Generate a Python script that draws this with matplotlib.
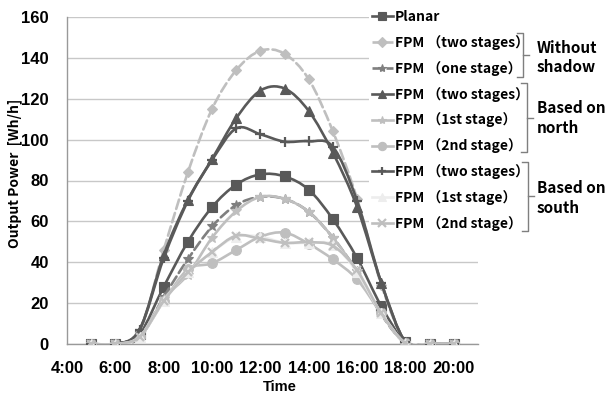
import numpy as np
import matplotlib
matplotlib.use("Agg")
import matplotlib.pyplot as plt
from matplotlib.path import Path
from matplotlib.patches import PathPatch
from matplotlib.lines import Line2D

# hours of the day (data points)
hours = [5, 6, 7, 8, 9, 10, 11, 12, 13, 14, 15, 16, 17, 18, 19, 20]

planar    = [0, 0, 5.0, 28.0, 50.0, 67.0, 78.0, 83.0, 82.0, 75.5, 61.0, 42.0, 18.5, 1.0, 0, 0]
wo_two    = [0, 0, 6.0, 46.0, 84.0, 115.0, 134.0, 143.5, 142.0, 129.5, 104.0, 71.0, 29.0, 1.0, 0, 0]
wo_one    = [0, 0, 3.0, 23.0, 41.5, 57.5, 68.0, 72.0, 71.0, 64.7, 52.0, 35.5, 14.5, 0.5, 0, 0]
north_two = [0, 0, 7.0, 43.5, 70.5, 90.5, 110.5, 124.0, 125.0, 114.0, 93.5, 67.0, 30.0, 1.0, 0, 0]
north_1st = [0, 0, 3.5, 22.0, 34.0, 52.0, 65.0, 72.0, 71.0, 64.7, 52.0, 35.5, 15.0, 0.5, 0, 0]
north_2nd = [0, 0, 3.5, 21.0, 36.5, 39.5, 46.0, 52.5, 54.5, 49.0, 41.4, 31.6, 15.0, 0.5, 0, 0]
south_two = [0, 0, 7.0, 42.0, 70.0, 90.0, 105.5, 102.6, 99.0, 99.2, 96.5, 70.0, 30.0, 1.0, 0, 0]
south_1st = [0, 0, 3.5, 21.0, 35.0, 45.0, 52.5, 52.5, 49.5, 49.5, 48.5, 35.0, 15.0, 0.5, 0, 0]
south_2nd = [0, 0, 3.5, 21.0, 35.0, 45.0, 53.0, 51.5, 49.5, 49.8, 48.0, 36.0, 15.0, 0.5, 0, 0]

labels = ["Planar", "FPM （two stages）", "FPM （one stage）",
          "FPM （two stages）", "FPM （1st stage）", "FPM （2nd stage）",
          "FPM （two stages）", "FPM （1st stage）", "FPM （2nd stage）"]

xticks = [4, 6, 8, 10, 12, 14, 16, 18, 20]
xticklabels = ["4:00", "6:00", "8:00", "10:00", "12:00", "14:00", "16:00", "18:00", "20:00"]

DARK = "#595959"
LIGHT = "#BFBFBF"
MID = "#7F7F7F"
PALE = "#EDEDED"

# (values, color, linestyle, marker, markersize)
series = [
    (planar,    DARK,  "-",  "s", 6.5),
    (wo_two,    LIGHT, "--", "D", 5.5),
    (wo_one,    MID,   "--", "*", 7),
    (north_two, DARK,  "-",  "^", 7),
    (north_1st, LIGHT, "-",  "*", 7),
    (north_2nd, LIGHT, "-",  "o", 7),
    (south_two, DARK,  "-",  "+", 7),
    (south_1st, PALE,  "-",  "^", 7),
    (south_2nd, LIGHT, "-",  "x", 6),
]


def smooth_path(xs, ys):
    # excel style smoothed line: bezier segments with catmull-rom control points
    pts = np.column_stack([xs, ys]).astype(float)
    n = len(pts)
    verts = [tuple(pts[0])]
    codes = [Path.MOVETO]
    for i in range(n - 1):
        p0 = pts[max(i - 1, 0)]
        p1 = pts[i]
        p2 = pts[i + 1]
        p3 = pts[min(i + 2, n - 1)]
        c1 = p1 + (p2 - p0) / 6.0
        c2 = p2 - (p3 - p1) / 6.0
        verts += [tuple(c1), tuple(c2), tuple(p2)]
        codes += [Path.CURVE4] * 3
    return Path(verts, codes)


W, H = 612, 394
fig = plt.figure(figsize=(W / 100, H / 100), dpi=100)
ax = fig.add_axes([67 / W, 1 - 344 / H, (478 - 67) / W, (344 - 17) / H])

handles = []
for i, (vals, col, ls, mk, ms) in enumerate(series):
    z = 3 + i * 0.1
    mew = 1.6 if mk in ("+", "x") else 0.8
    patch = PathPatch(smooth_path(hours, vals), fill=False, edgecolor=col,
                      linewidth=1.9, linestyle=ls, zorder=z, capstyle="round")
    ax.add_patch(patch)
    ax.plot(hours, vals, linestyle="none", marker=mk, markersize=ms,
            markerfacecolor=col, markeredgecolor=col, markeredgewidth=mew,
            zorder=z + 0.05)
    handles.append(Line2D([], [], color=col, linestyle=ls, linewidth=1.9, marker=mk,
                          markersize=ms * 0.85, markerfacecolor=col, markeredgecolor=col,
                          markeredgewidth=mew))

ax.set_xlim(4, 21)
ax.set_ylim(0, 160)
ax.set_xticks(xticks)
ax.set_xticklabels(xticklabels)
ax.set_yticks(range(0, 161, 20))
ax.grid(axis="y", color="#C8C8C8", linewidth=1.0, zorder=0)
ax.set_axisbelow(True)
for s in ("top", "right"):
    ax.spines[s].set_visible(False)
for s in ("left", "bottom"):
    ax.spines[s].set_color("#999999")
    ax.spines[s].set_linewidth(1.0)
ax.tick_params(axis="both", length=0)
ax.tick_params(axis="x", pad=12)
ax.tick_params(axis="y", pad=13)
for t in ax.get_xticklabels() + ax.get_yticklabels():
    t.set_fontfamily("Liberation Sans")
    t.set_fontweight("bold")
    t.set_fontsize(12)

ax.set_xlabel("Time", fontfamily="Liberation Sans", fontweight="bold", fontsize=10.5)
ax.xaxis.set_label_coords((280 - 67) / 411, (344 - 380) / 327)
fig.text(15 / W, 1 - 173 / H, "Output Power  [Wh/h]", rotation=90, ha="center", va="center",
         family=["Noto Sans CJK JP", "DejaVu Sans"], fontweight="bold", fontsize=10)

leg = fig.legend(handles, labels, loc="upper left",
                 bbox_to_anchor=((372 - 3) / W, 1 - 7 / H),
                 prop={"family": ["Noto Sans CJK JP", "DejaVu Sans"], "weight": "bold", "size": 10},
                 handlelength=1.5, handletextpad=0.15, labelspacing=0.79,
                 borderpad=0.2, borderaxespad=0, frameon=True, fancybox=False)
leg.get_frame().set_facecolor("white")
leg.get_frame().set_edgecolor("none")
leg.get_frame().set_alpha(1)
leg.set_zorder(5)


def px(x, y):
    return x / W, 1 - y / H


def bracket(x, y0, y1, ym):
    xs, ys = zip(*[px(x - 6, y0), px(x, y0), px(x, y1), px(x - 6, y1)])
    fig.add_artist(Line2D(xs, ys, color=MID, linewidth=1.0, zorder=10))
    xs, ys = zip(*[px(x, ym), px(x + 6, ym)])
    fig.add_artist(Line2D(xs, ys, color=MID, linewidth=1.0, zorder=10))


bracket(523, 33, 77, 55)
bracket(527, 83, 152, 118)
bracket(528, 162, 231, 196)

group_font = dict(family=["Noto Sans CJK JP", "DejaVu Sans"], fontweight="bold", fontsize=11,
                  ha="left", va="center", zorder=10)
for txt, y in [("Without", 48), ("shadow", 67), ("Based on", 108), ("north", 128),
               ("Based on", 188), ("south", 208)]:
    fig.text(537 / W, 1 - y / H, txt, **group_font)

fig.savefig("out.png", dpi=100)
